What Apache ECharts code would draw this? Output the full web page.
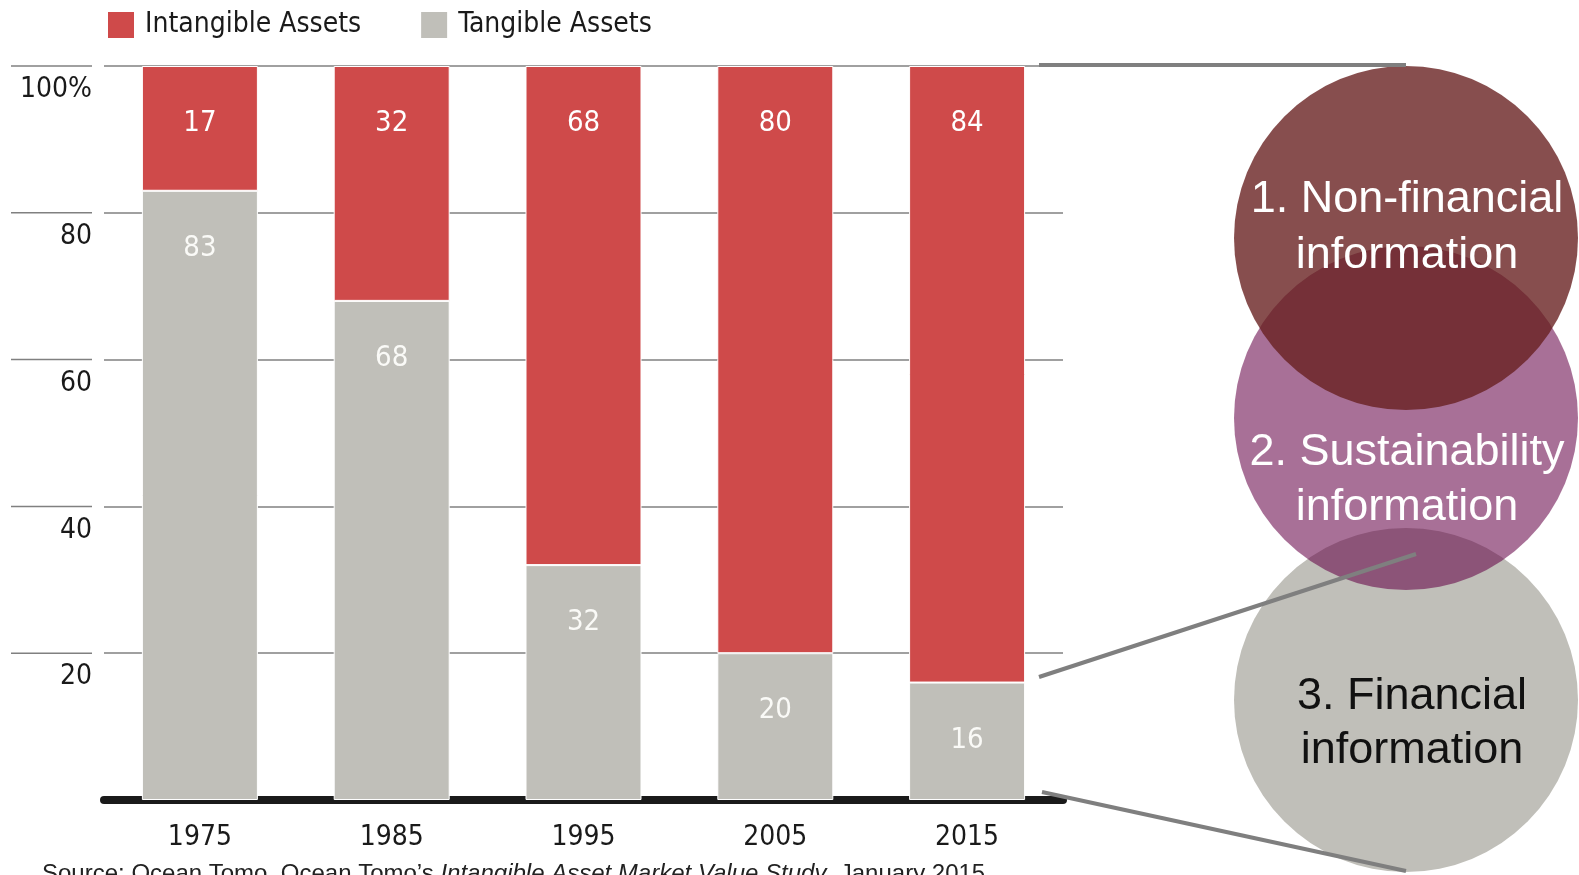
<!DOCTYPE html>
<html>
<head>
<meta charset="utf-8">
<script src="https://cdn.jsdelivr.net/npm/echarts@6/dist/echarts.min.js"></script>
<style>
  html, body { margin: 0; padding: 0; background: #fff; }
  #chart { width: 1579px; height: 875px; }
</style>
</head>
<body>
<div id="chart"></div>
<script>
  // data
  const years = ['1975', '1985', '1995', '2005', '2015'];
  const intangible = [17, 32, 68, 80, 84];
  const tangible = [83, 68, 32, 20, 16];
  const seriesNames = ['Intangible Assets', 'Tangible Assets'];
  const tickLabels = { 100: '100%', 80: '80', 60: '60', 40: '40', 20: '20', 0: '' };
  const circleLabels = ['1. Non-financial\ninformation', '2. Sustainability\ninformation', '3. Financial\ninformation'];
  const sourceNote = ['Source: Ocean Tomo, Ocean Tomo\u2019s ', 'Intangible Asset Market Value Study', ', January 2015'];

  const narrow = '"Liberation Sans Narrow", "DejaVu Sans Condensed", sans-serif';
  const red = '#cf4a4a';
  const grey = '#c0bfb9';

  const chart = echarts.init(document.getElementById('chart'));

  const option = {
    animation: false,
    grid: { left: 104, right: 1579 - 1063, top: 66, bottom: 875 - 800, containLabel: false },
    legend: {
      data: seriesNames,
      left: 106,
      top: 10,
      padding: 0,
      itemWidth: 28,
      itemHeight: 28,
      itemGap: 58,
      icon: 'rect',
      textStyle: { fontFamily: narrow, fontSize: 28, color: '#1a1a1a', padding: [0, 0, 0, 5] }
    },
    xAxis: {
      type: 'category',
      data: years,
      axisLine: { lineStyle: { color: '#1a1a1a', width: 8 } },
      axisTick: { show: false },
      axisLabel: { fontFamily: narrow, fontSize: 28, color: '#1a1a1a', margin: 24 }
    },
    yAxis: {
      type: 'value',
      min: 0,
      max: 100,
      interval: 20,
      axisLine: { show: false },
      axisTick: { show: false },
      splitLine: { lineStyle: { color: '#808080', width: 1.5 } },
      axisLabel: {
        fontFamily: narrow,
        fontSize: 28,
        color: '#1a1a1a',
        margin: 12,
        verticalAlign: 'top',
        padding: [10, 0, 0, 0],
        formatter: v => tickLabels[v]
      }
    },
    series: [
      {
        name: seriesNames[1],
        type: 'bar',
        stack: 'total',
        data: tangible,
        barWidth: 116,
        itemStyle: { color: grey, borderColor: '#fff', borderWidth: 1 },
        label: { show: true, position: 'insideTop', distance: 43, color: '#fafaf7', fontFamily: narrow, fontSize: 29 }
      },
      {
        name: seriesNames[0],
        type: 'bar',
        stack: 'total',
        data: intangible,
        barWidth: 116,
        itemStyle: { color: red, borderColor: '#fff', borderWidth: 1 },
        label: { show: true, position: 'insideTop', distance: 43, color: '#fff', fontFamily: narrow, fontSize: 29 }
      }
    ]
  };
  chart.setOption(option);

  // short left pieces of the grid lines, placed through the y scale
  const ticks = [20, 40, 60, 80, 100].map(v => {
    const y = chart.convertToPixel({ yAxisIndex: 0 }, v);
    return { type: 'line', shape: { x1: 11, y1: y, x2: 92, y2: y }, style: { stroke: '#808080', lineWidth: 1.5 } };
  });

  const connector = { stroke: '#7f7f7f', lineWidth: 4 };
  const circleFont = '"Liberation Sans", Arial, sans-serif';

  chart.setOption({
    graphic: [
      ...ticks,
      { type: 'circle', z: 10, shape: { cx: 1406, cy: 700, r: 172 }, style: { fill: grey } },
      { type: 'circle', z: 11, shape: { cx: 1406, cy: 418, r: 172 }, style: { fill: 'rgba(100,0,70,0.56)' } },
      { type: 'circle', z: 12, shape: { cx: 1406, cy: 238, r: 172 }, style: { fill: 'rgba(103,30,30,0.79)' } },
      { type: 'line', z: 13, shape: { x1: 1039, y1: 65, x2: 1406, y2: 65 }, style: connector },
      { type: 'line', z: 13, shape: { x1: 1039, y1: 677, x2: 1416, y2: 554 }, style: connector },
      { type: 'line', z: 13, shape: { x1: 1042, y1: 792, x2: 1406, y2: 871 }, style: connector },
      {
        type: 'text', z: 14, x: 1407, y: 228,
        style: { text: circleLabels[0], fill: '#fff', font: '45px ' + circleFont, align: 'center', verticalAlign: 'middle', lineHeight: 56 }
      },
      {
        type: 'text', z: 14, x: 1407, y: 480,
        style: { text: circleLabels[1], fill: '#fff', font: '45px ' + circleFont, align: 'center', verticalAlign: 'middle', lineHeight: 55 }
      },
      {
        type: 'text', z: 14, x: 1412, y: 724,
        style: { text: circleLabels[2], fill: '#111', font: '45px ' + circleFont, align: 'center', verticalAlign: 'middle', lineHeight: 54 }
      },
      {
        type: 'text', z: 14, x: 42, y: 862,
        style: {
          text: '{a|' + sourceNote[0] + '}{b|' + sourceNote[1] + '}{a|' + sourceNote[2] + '}',
          verticalAlign: 'top',
          rich: {
            a: { fontFamily: circleFont, fontSize: 24, fill: '#222' },
            b: { fontFamily: circleFont, fontSize: 24, fontStyle: 'italic', fill: '#222' }
          }
        }
      }
    ]
  });
</script>
</body>
</html>
